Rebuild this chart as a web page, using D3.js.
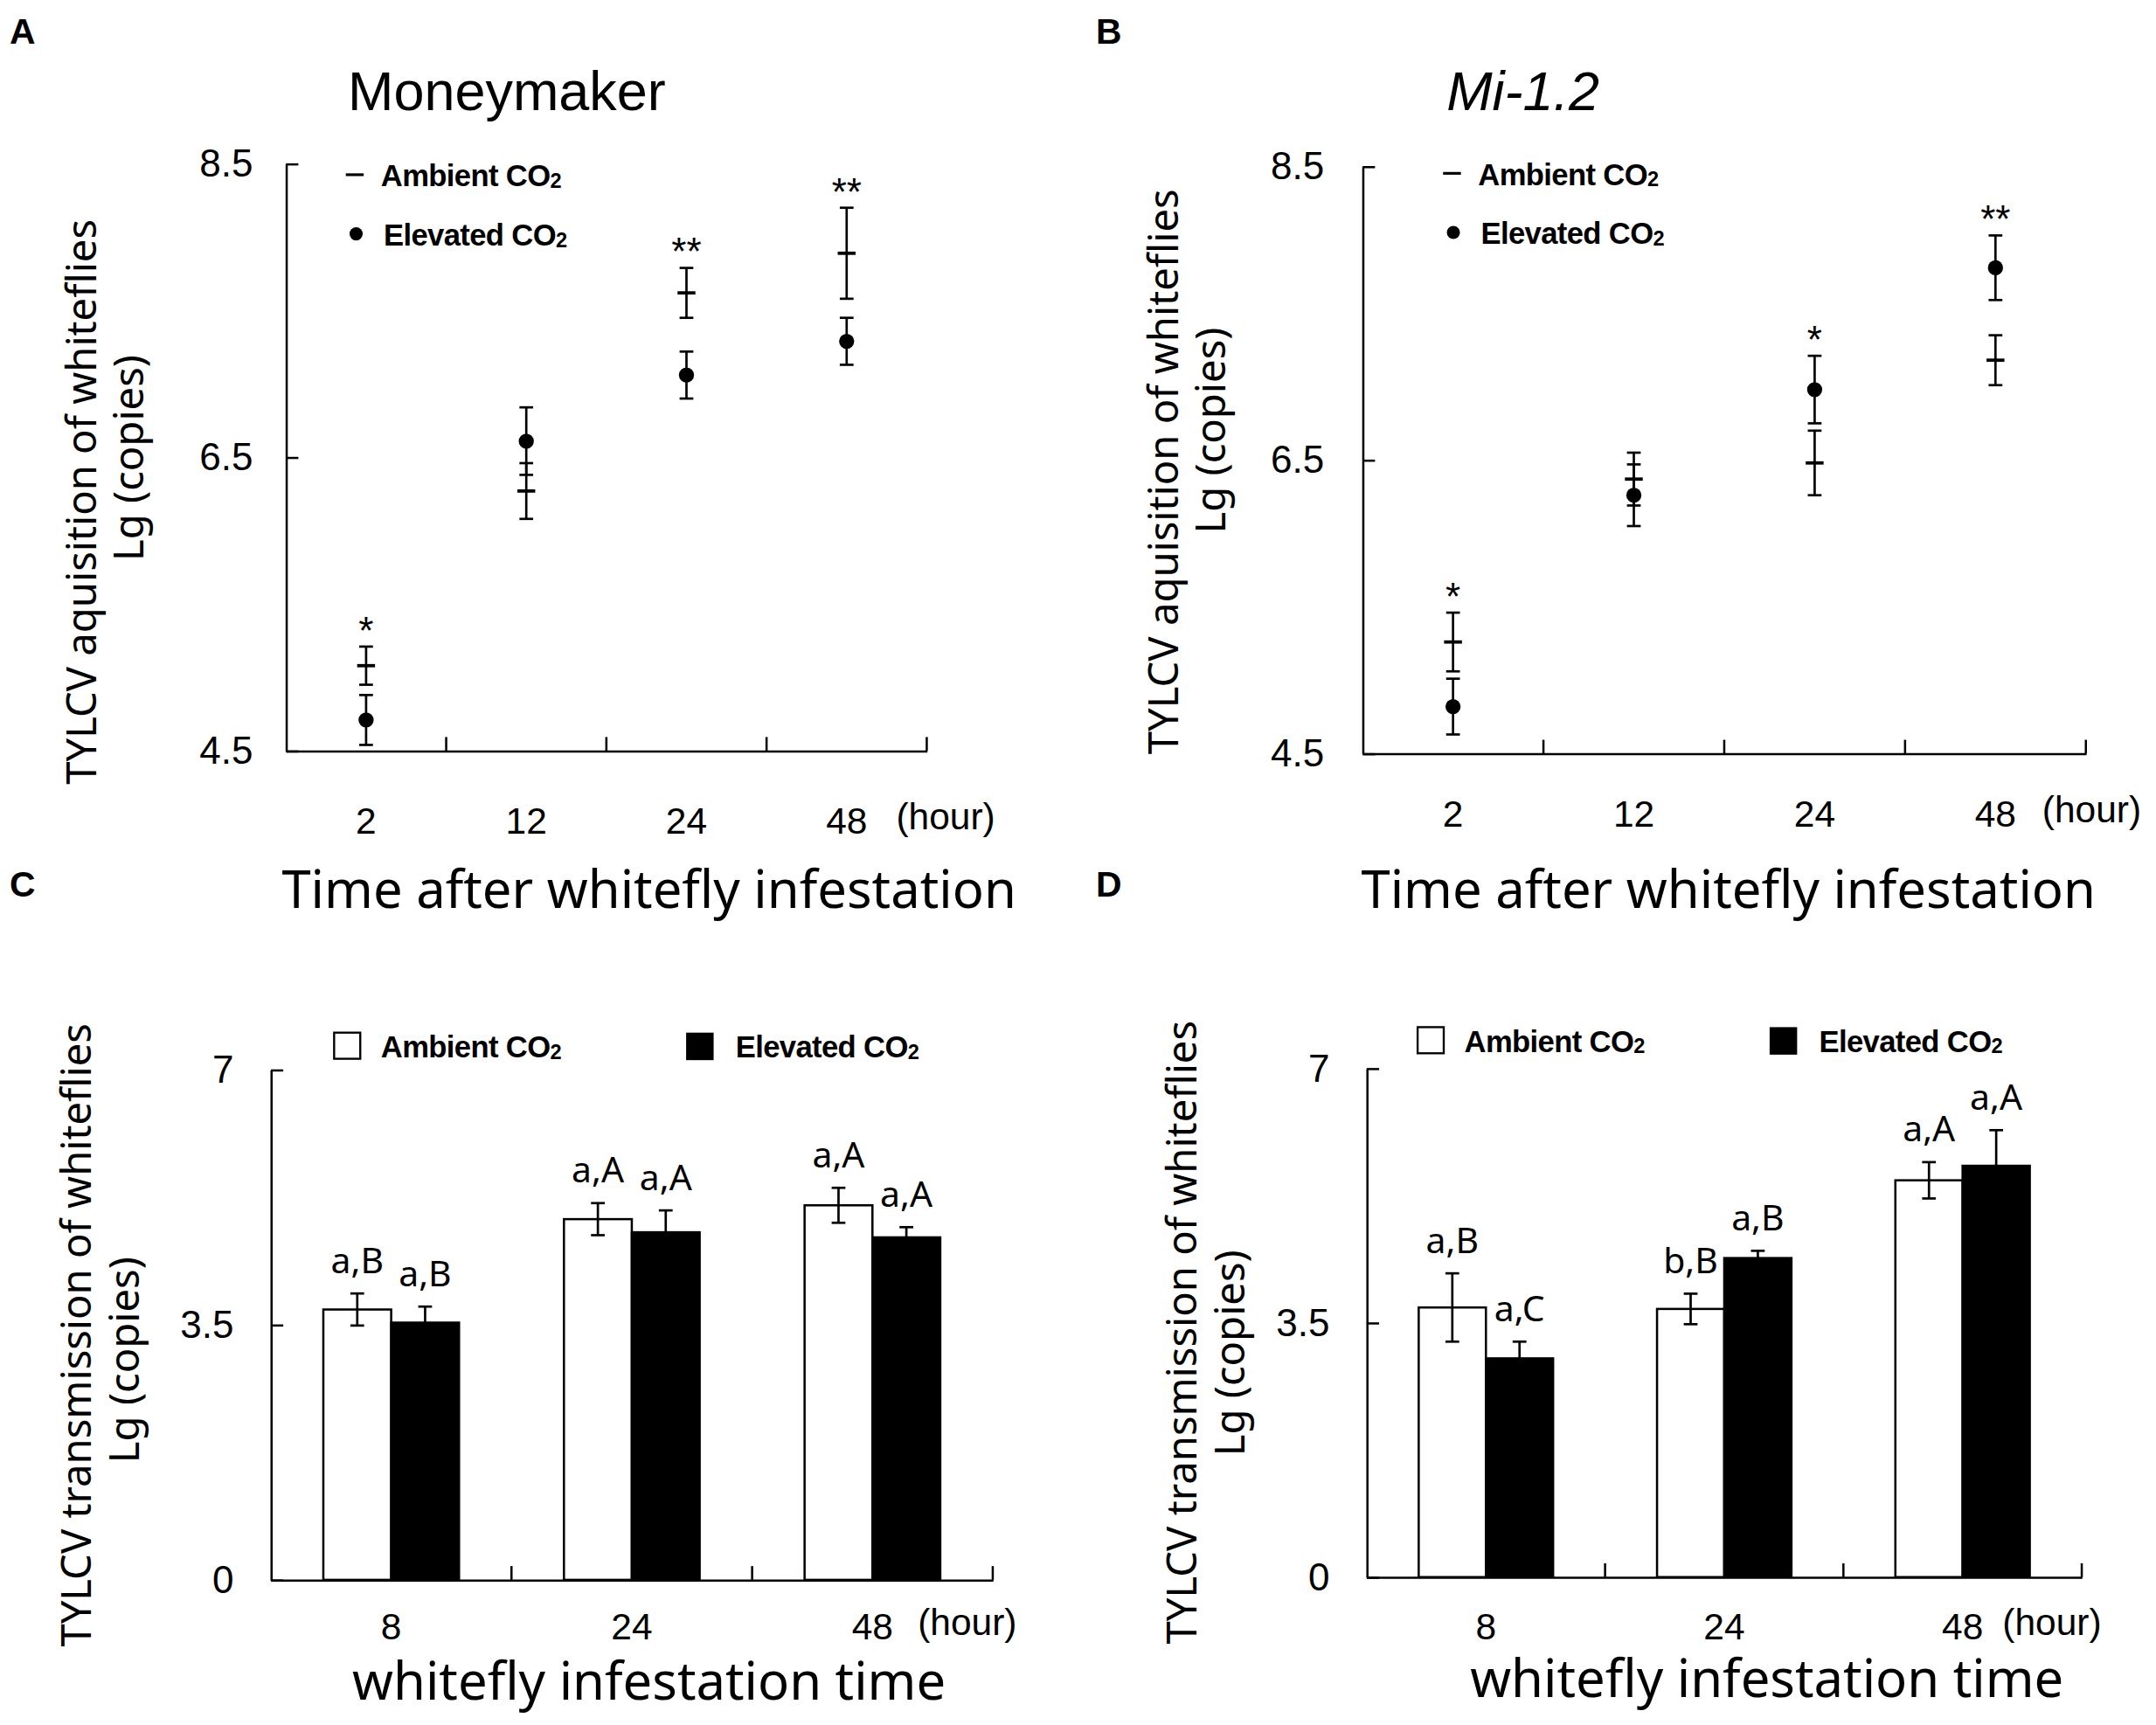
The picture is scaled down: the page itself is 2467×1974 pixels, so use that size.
<!DOCTYPE html>
<html>
<head>
<meta charset="utf-8">
<script src="https://cdn.jsdelivr.net/npm/d3@7"></script>
<style>
  body { margin: 0; background: #fff; }
  svg { display: block; }
</style>
</head>
<body>
<script>

// A & B: TYLCV acquisition, Lg(copies), by hours after infestation
var acqTimes = ["2", "12", "24", "48"];

var mmAmbient = [5.08, 6.27, 7.62, 7.89];
var mmAmbientErr = [0.13, 0.19, 0.17, 0.31];
var mmElevated = [4.71, 6.61, 7.06, 7.29];
var mmElevatedErr = [0.17, 0.23, 0.16, 0.16];
var mmStars = ["*", "", "**", "**"];

var miAmbient = [5.26, 6.37, 6.48, 7.18];
var miAmbientErr = [0.20, 0.18, 0.22, 0.17];
var miElevated = [4.82, 6.26, 6.98, 7.81];
var miElevatedErr = [0.19, 0.21, 0.23, 0.22];
var miStars = ["*", "", "*", "**"];

var acqTicks = [4.5, 6.5, 8.5];

// C & D: TYLCV transmission, Lg(copies)
var transTimes = ["8", "24", "48"];

var mmTransAmbient = [3.71, 4.95, 5.14];
var mmTransAmbientErr = [0.22, 0.22, 0.24];
var mmTransElevated = [3.53, 4.77, 4.70];
var mmTransElevatedErr = [0.22, 0.30, 0.14];
var mmTransAmbientLetters = ["a,B", "a,A", "a,A"];
var mmTransElevatedLetters = ["a,B", "a,A", "a,A"];

var miTransAmbient = [3.71, 3.69, 5.46];
var miTransAmbientErr = [0.47, 0.21, 0.25];
var miTransElevated = [3.01, 4.39, 5.66];
var miTransElevatedErr = [0.23, 0.10, 0.49];
var miTransAmbientLetters = ["a,B", "b,B", "a,A"];
var miTransElevatedLetters = ["a,C", "a,B", "a,A"];

var transTicks = [0, 3.5, 7];

var W = 1568, H = 1254.5;
var ARIAL = "'Liberation Sans', Arial, sans-serif";
var SANS = "'Noto Sans', 'Open Sans', sans-serif";

var svg = d3.select("body").append("svg")
  .attr("width", 2467).attr("height", 1974)
  .attr("viewBox", "0 0 " + W + " " + H);

function co2(sel, x, y, label) {
  var t = sel.append("text").attr("x", x).attr("y", y)
    .attr("font-family", ARIAL).attr("font-weight", "bold").attr("font-size", 22)
    .attr("letter-spacing", -0.4);
  t.append("tspan").text(label + " CO");
  t.append("tspan").attr("font-size", 15).attr("dy", 1).text("2");
}

function yTitle(g, p, line1) {
  g.append("text")
    .attr("transform", "translate(" + p.t1x + "," + p.t1y + ") rotate(-90)")
    .attr("text-anchor", "middle").attr("font-family", SANS).attr("font-size", 30)
    .text(line1);
  g.append("text")
    .attr("transform", "translate(" + p.t2x + "," + p.t2y + ") rotate(-90)")
    .attr("text-anchor", "middle").attr("font-family", SANS).attr("font-size", 30)
    .text("Lg (copies)");
}

function xAxis(g, x, p, cats) {
  var ax = g.append("g").attr("transform", "translate(0," + p.bottom + ")")
    .call(d3.axisBottom(x).tickSize(0).tickSizeOuter(0));
  ax.select(".domain").attr("stroke-width", 1.6);
  ax.selectAll("text").attr("y", p.xLab).attr("dy", null)
    .attr("font-family", ARIAL).attr("font-size", 27).attr("fill", "#000");
  // little upward ticks on the category boundaries
  g.selectAll(".xb").data(cats).enter().append("line")
    .attr("x1", function (d) { return x(d) + x.bandwidth(); })
    .attr("x2", function (d) { return x(d) + x.bandwidth(); })
    .attr("y1", p.bottom).attr("y2", p.bottom - 10)
    .attr("stroke", "#000").attr("stroke-width", 1.6);
  var last = cats[cats.length - 1];
  g.append("text")
    .attr("x", x(last) + x.bandwidth() / 2 + p.hourDx)
    .attr("y", p.bottom + p.xLab - 3)
    .attr("font-family", ARIAL).attr("font-size", 27)
    .text("(hour)");
}

function yAxis(g, y, p, ticks, fmt) {
  var ay = g.append("g").attr("transform", "translate(" + p.left + ",0)")
    .call(d3.axisLeft(y).tickValues(ticks).tickSizeInner(-9).tickSizeOuter(0)
      .tickPadding(p.yPad).tickFormat(fmt));
  ay.select(".domain").attr("stroke-width", 1.6);
  ay.selectAll("line").attr("stroke-width", 1.6);
  ay.selectAll("text").attr("font-family", ARIAL).attr("font-size", 28).attr("fill", "#000");
}

function errBar(g, cx, y, v, e, hw) {
  g.append("line").attr("x1", cx).attr("x2", cx)
    .attr("y1", y(v - e)).attr("y2", y(v + e))
    .attr("stroke", "#000").attr("stroke-width", 1.7);
  [v - e, v + e].forEach(function (yy) {
    g.append("line").attr("x1", cx - hw).attr("x2", cx + hw)
      .attr("y1", y(yy)).attr("y2", y(yy))
      .attr("stroke", "#000").attr("stroke-width", 1.7);
  });
}

function pointPanel(p) {
  var g = svg.append("g");
  var x = d3.scaleBand().domain(acqTimes).range([p.left, p.right]);
  var y = d3.scaleLinear().domain([4.5, 8.5]).range([p.bottom, p.top]);

  g.append("text").attr("x", p.letterX).attr("y", 32)
    .attr("font-family", ARIAL).attr("font-weight", "bold").attr("font-size", 26)
    .text(p.letter);
  g.append("text").attr("x", p.titleX).attr("y", 80)
    .attr("font-family", ARIAL).attr("font-size", 40)
    .attr("font-style", p.italic ? "italic" : "normal")
    .text(p.title);

  yAxis(g, y, p, acqTicks, d3.format(".1f"));
  xAxis(g, x, p, acqTimes);

  acqTimes.forEach(function (t, i) {
    var cx = x(t) + x.bandwidth() / 2;
    errBar(g, cx, y, p.amb[i], p.ambErr[i], 5);
    errBar(g, cx, y, p.elev[i], p.elevErr[i], 5);
    g.append("line").attr("x1", cx - 6.5).attr("x2", cx + 6.5)
      .attr("y1", y(p.amb[i])).attr("y2", y(p.amb[i]))
      .attr("stroke", "#000").attr("stroke-width", 2.4);
    g.append("circle").attr("cx", cx).attr("cy", y(p.elev[i])).attr("r", 5.5)
      .attr("fill", "#000");
    if (p.stars[i]) {
      var topV = Math.max(p.amb[i] + p.ambErr[i], p.elev[i] + p.elevErr[i]);
      g.append("text").attr("x", cx).attr("y", y(topV) - 2)
        .attr("text-anchor", "middle").attr("font-family", ARIAL).attr("font-size", 28)
        .text(p.stars[i]);
    }
  });

  // legend
  g.append("line").attr("x1", p.legX - 6.5).attr("x2", p.legX + 6.5)
    .attr("y1", p.legY).attr("y2", p.legY).attr("stroke", "#000").attr("stroke-width", 2);
  co2(g, p.legX + 19, p.legY + 8.5, "Ambient");
  g.append("circle").attr("cx", p.legX + 1).attr("cy", p.legY + 43).attr("r", 4.8).attr("fill", "#000");
  co2(g, p.legX + 21, p.legY + 51.5, "Elevated");

  yTitle(g, p, "TYLCV aquisition of whiteflies");
  g.append("text").attr("x", (p.left + p.right) / 2 + p.xtDx).attr("y", 660)
    .attr("text-anchor", "middle").attr("font-family", SANS).attr("font-size", 38)
    .text("Time after whitefly infestation");
}

function barPanel(p) {
  var g = svg.append("g");
  var x = d3.scaleBand().domain(transTimes).range([p.left, p.right]);
  var bw = x.bandwidth() * 0.282;
  var xs = d3.scaleBand().domain(["Ambient", "Elevated"]).range([0, 2 * bw]);
  var y = d3.scaleLinear().domain([0, 7]).range([p.bottom, p.top]);

  g.append("text").attr("x", p.letterX).attr("y", 652)
    .attr("font-family", ARIAL).attr("font-weight", "bold").attr("font-size", 26)
    .text(p.letter);

  var series = [
    { key: "Ambient", vals: p.amb, err: p.ambErr, lab: p.ambLab, fill: "#fff" },
    { key: "Elevated", vals: p.elev, err: p.elevErr, lab: p.elevLab, fill: "#000" }
  ];

  series.forEach(function (s) {
    transTimes.forEach(function (t, i) {
      var x0 = x(t) + x.bandwidth() / 2 - bw + xs(s.key);
      g.append("rect").attr("x", x0).attr("y", y(s.vals[i]))
        .attr("width", xs.bandwidth()).attr("height", y(0) - y(s.vals[i]))
        .attr("fill", s.fill).attr("stroke", "#000").attr("stroke-width", 1.6);
      var cx = x0 + xs.bandwidth() / 2;
      errBar(g, cx, y, s.vals[i], s.err[i], 5);
      g.append("text").attr("x", cx).attr("y", y(s.vals[i] + s.err[i]) - 15)
        .attr("text-anchor", "middle").attr("font-family", SANS).attr("font-size", 26)
        .text(s.lab[i]);
    });
  });

  yAxis(g, y, p, transTicks, d3.format("~g"));
  xAxis(g, x, p, transTimes);

  // legend
  g.append("rect").attr("x", p.legX).attr("y", p.legY).attr("width", 19).attr("height", 19)
    .attr("fill", "#fff").attr("stroke", "#000").attr("stroke-width", 1.5);
  co2(g, p.legX + 34, p.legY + 18, "Ambient");
  g.append("rect").attr("x", p.legX2).attr("y", p.legY).attr("width", 20).attr("height", 20)
    .attr("fill", "#000");
  co2(g, p.legX2 + 36, p.legY + 18, "Elevated");

  yTitle(g, p, "TYLCV transmission of whiteflies");
  g.append("text").attr("x", p.xtX).attr("y", p.xtY)
    .attr("text-anchor", "middle").attr("font-family", SANS).attr("font-size", 38)
    .text("whitefly infestation time");
}

pointPanel({
  letter: "A", letterX: 7, title: "Moneymaker", titleX: 253, italic: false,
  left: 208, right: 674, top: 119, bottom: 546, yPad: 24, xLab: 60, hourDx: 36, xtDx: 31,
  amb: mmAmbient, ambErr: mmAmbientErr, elev: mmElevated, elevErr: mmElevatedErr, stars: mmStars,
  legX: 258, legY: 127,
  t1x: 70, t1y: 365, t2x: 104, t2y: 333
});

pointPanel({
  letter: "B", letterX: 797, title: "Mi-1.2", titleX: 1052, italic: true,
  left: 991, right: 1517, top: 121, bottom: 548, yPad: 28, xLab: 53, hourDx: 34, xtDx: 3,
  amb: miAmbient, ambErr: miAmbientErr, elev: miElevated, elevErr: miElevatedErr, stars: miStars,
  legX: 1056, legY: 126,
  t1x: 857, t1y: 343, t2x: 891, t2y: 313
});

barPanel({
  letter: "C", letterX: 7,
  left: 197, right: 722, top: 778, bottom: 1149, yPad: 27, xLab: 43, hourDx: 33,
  amb: mmTransAmbient, ambErr: mmTransAmbientErr, elev: mmTransElevated, elevErr: mmTransElevatedErr,
  ambLab: mmTransAmbientLetters, elevLab: mmTransElevatedLetters,
  legX: 243, legX2: 499, legY: 751,
  t1x: 66, t1y: 971, t2x: 101, t2y: 989,
  xtX: 472, xtY: 1236
});

barPanel({
  letter: "D", letterX: 797,
  left: 994, right: 1514, top: 777, bottom: 1147, yPad: 27, xLab: 45, hourDx: 29,
  amb: miTransAmbient, ambErr: miTransAmbientErr, elev: miTransElevated, elevErr: miTransElevatedErr,
  ambLab: miTransAmbientLetters, elevLab: miTransElevatedLetters,
  legX: 1031, legX2: 1287, legY: 747,
  t1x: 870, t1y: 969, t2x: 905, t2y: 984,
  xtX: 1285, xtY: 1234
});

</script>
</body>
</html>
